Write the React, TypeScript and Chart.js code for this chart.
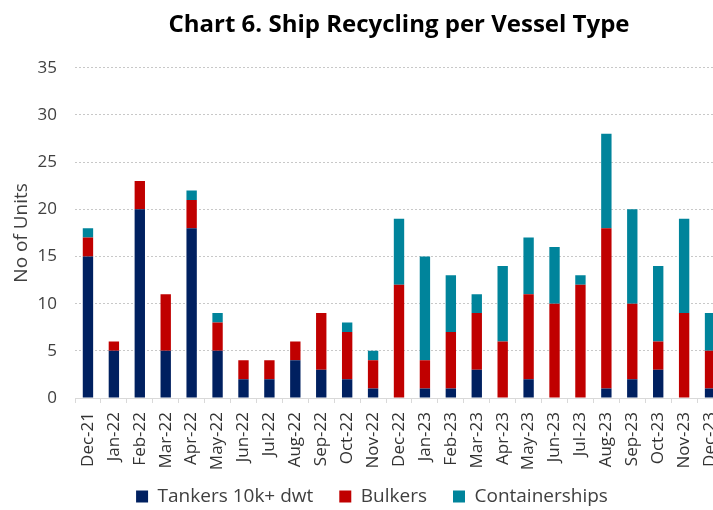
import React, { useEffect, useRef } from "react";
import { Chart, registerables } from "chart.js";

Chart.register(...registerables);

const categories = [
  "Dec-21", "Jan-22", "Feb-22", "Mar-22", "Apr-22", "May-22", "Jun-22", "Jul-22",
  "Aug-22", "Sep-22", "Oct-22", "Nov-22", "Dec-22", "Jan-23", "Feb-23", "Mar-23",
  "Apr-23", "May-23", "Jun-23", "Jul-23", "Aug-23", "Sep-23", "Oct-23", "Nov-23", "Dec-23",
];
const tankers = [15, 5, 20, 5, 18, 5, 2, 2, 4, 3, 2, 1, 0, 1, 1, 3, 0, 2, 0, 0, 1, 2, 3, 0, 1];
const bulkers = [2, 1, 3, 6, 3, 3, 2, 2, 2, 6, 5, 3, 12, 3, 6, 6, 6, 9, 10, 12, 17, 8, 3, 9, 4];
const containerships = [1, 0, 0, 0, 1, 1, 0, 0, 0, 0, 1, 1, 7, 11, 6, 2, 8, 6, 6, 1, 10, 10, 8, 10, 4];

const FONT = "'Open Sans'";
const TEXT = "#404040";

export default function App() {
  const ref = useRef<HTMLCanvasElement | null>(null);
  useEffect(() => {
    if (!ref.current) return;
    const shiftBlocks = {
      id: "shiftBlocks",
      afterLayout(chart: any) {
        const t = chart.titleBlock;
        if (t) {
          t.left += 27;
          t.right += 27;
        }
        const l = chart.legend;
        if (l) {
          l.top += 6;
          l.bottom += 6;
        }
        const x = chart.scales.x;
        if (x) x.bottom = chart.height - 30;
      },
    };
    const chart = new Chart(ref.current, {
      type: "bar",
      data: {
        labels: categories,
        datasets: [
          { label: "Tankers 10k+ dwt", data: tankers, backgroundColor: "#002060" },
          { label: "Bulkers", data: bulkers, backgroundColor: "#C00000" },
          { label: "Containerships", data: containerships, backgroundColor: "#00849B" },
        ],
      },
      options: {
        animation: false,
        responsive: true,
        maintainAspectRatio: false,
        datasets: { bar: { categoryPercentage: 1, barPercentage: 0.4 } },
        layout: { padding: { left: 0, right: 0, top: 0, bottom: 0 } },
        plugins: {
          title: {
            display: true,
            text: "Chart 6. Ship Recycling per Vessel Type",
            color: "#000",
            font: { family: FONT, size: 24, weight: "bold" },
            padding: { top: 11, bottom: 28 },
          },
          legend: {
            position: "bottom",
            labels: {
              color: TEXT,
              font: { family: FONT, size: 19 },
              boxWidth: 12,
              boxHeight: 12,
              padding: 26,
            },
          },
          tooltip: { enabled: false },
        },
        scales: {
          x: {
            stacked: true,
            grid: {
              display: true,
              drawOnChartArea: false,
              drawTicks: true,
              tickLength: 5,
              color: "#d9d9d9",
            },
            border: { display: true, color: "#d9d9d9" },
            ticks: {
              color: "#333333",
              font: { family: FONT, size: 17 },
              minRotation: 90,
              maxRotation: 90,
              autoSkip: false,
              padding: 9,
            },
            afterFit(scale: any) {
              const ch = scale.chart;
              const lh = ch.legend ? ch.legend.height : 40;
              scale.height = ch.height - 398 - lh;
            },
          },
          y: {
            stacked: true,
            min: 0,
            max: 35,
            ticks: {
              stepSize: 5,
              color: TEXT,
              font: { family: FONT, size: 17 },
              padding: 18,
            },
            grid: { color: "#c8c8c8", drawTicks: false },
            border: { display: false, dash: [2, 2] },
            title: {
              display: true,
              text: "No of Units",
              color: TEXT,
              font: { family: FONT, size: 19 },
              padding: { top: 10, bottom: 0 },
            },
            afterFit(scale: any) {
              scale.width = 75;
            },
          },
          y2: {
            position: "right",
            display: true,
            grid: { display: false },
            border: { display: false },
            ticks: { display: false },
            afterFit(scale: any) {
              scale.width = 21;
            },
          },
        },
      },
      plugins: [shiftBlocks],
    } as any);
    return () => chart.destroy();
  }, []);
  return (
    <div style={{ position: "fixed", left: 0, top: 0, width: 713, height: 510, overflow: "hidden", background: "#fff" }}>
      <div style={{ position: "relative", width: 744, height: 510 }}>
        <canvas ref={ref} />
      </div>
    </div>
  );
}
